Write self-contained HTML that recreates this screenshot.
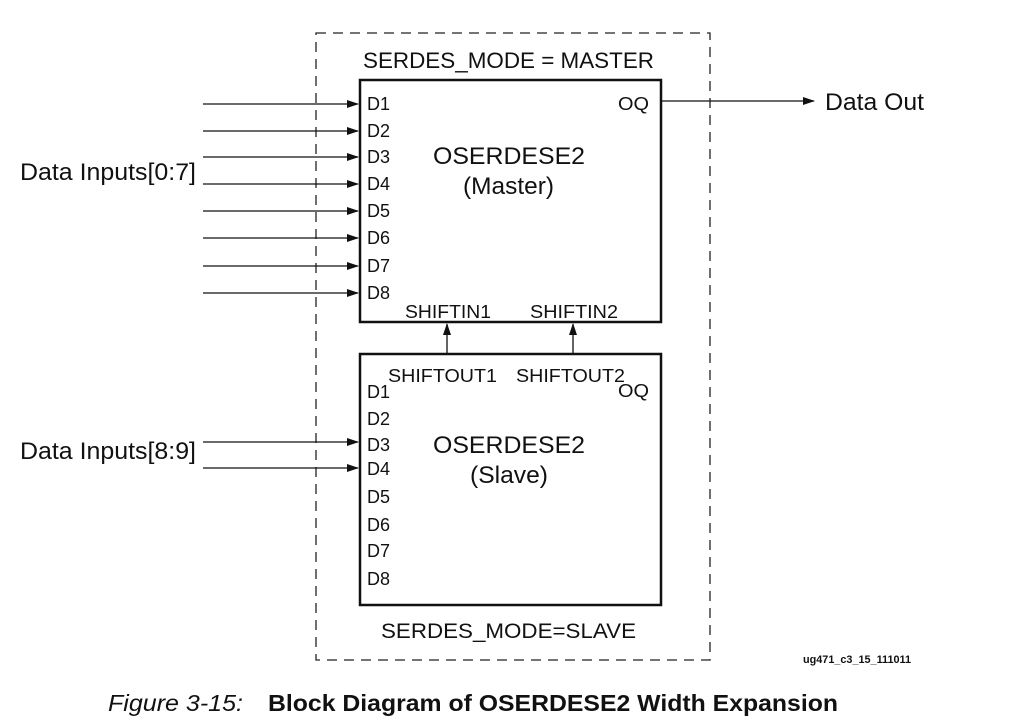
<!DOCTYPE html>
<html><head><meta charset="utf-8"><style>
html,body{margin:0;padding:0;background:#fff;}
svg{display:block;}
text{font-family:"Liberation Sans",Arial,sans-serif;fill:#111;}
</style></head><body>
<svg width="1016" height="727" viewBox="0 0 1016 727">
<defs><marker id="ah" markerWidth="12" markerHeight="8" refX="11" refY="4" orient="auto" markerUnits="userSpaceOnUse"><path d="M0,0 L12,4 L0,8 z" fill="#111"/></marker></defs>
<rect x="316" y="33" width="394" height="627" fill="none" stroke="#222" stroke-width="1.3" stroke-dasharray="10,7"/>
<text x="363" y="68" font-size="22" textLength="291" lengthAdjust="spacingAndGlyphs">SERDES_MODE = MASTER</text>
<rect x="360" y="80" width="301" height="242" fill="none" stroke="#111" stroke-width="2.5"/>
<g stroke="#111" stroke-width="1.3">
<line x1="203" y1="104" x2="358" y2="104" marker-end="url(#ah)"/>
<line x1="203" y1="131" x2="358" y2="131" marker-end="url(#ah)"/>
<line x1="203" y1="157" x2="358" y2="157" marker-end="url(#ah)"/>
<line x1="203" y1="184" x2="358" y2="184" marker-end="url(#ah)"/>
<line x1="203" y1="211" x2="358" y2="211" marker-end="url(#ah)"/>
<line x1="203" y1="238" x2="358" y2="238" marker-end="url(#ah)"/>
<line x1="203" y1="266" x2="358" y2="266" marker-end="url(#ah)"/>
<line x1="203" y1="293" x2="358" y2="293" marker-end="url(#ah)"/>
</g>
<g font-size="18">
<text x="367" y="110">D1</text><text x="367" y="137">D2</text><text x="367" y="163">D3</text><text x="367" y="190">D4</text>
<text x="367" y="217">D5</text><text x="367" y="244">D6</text><text x="367" y="272">D7</text><text x="367" y="299">D8</text>
<text x="618" y="110" textLength="31" lengthAdjust="spacingAndGlyphs">OQ</text>
<text x="405" y="318" textLength="86" lengthAdjust="spacingAndGlyphs">SHIFTIN1</text><text x="530" y="318" textLength="88" lengthAdjust="spacingAndGlyphs">SHIFTIN2</text>
</g>
<text x="433" y="164" font-size="24" textLength="152" lengthAdjust="spacingAndGlyphs">OSERDESE2</text>
<text x="463" y="194" font-size="24" textLength="91" lengthAdjust="spacingAndGlyphs">(Master)</text>
<text x="20" y="180" font-size="24" textLength="176" lengthAdjust="spacingAndGlyphs">Data Inputs[0:7]</text>
<line x1="661" y1="101" x2="814" y2="101" stroke="#111" stroke-width="1.3" marker-end="url(#ah)"/>
<text x="825" y="110" font-size="24" textLength="99" lengthAdjust="spacingAndGlyphs">Data Out</text>
<line x1="447" y1="354" x2="447" y2="324" stroke="#111" stroke-width="1.3" marker-end="url(#ah)"/>
<line x1="573" y1="354" x2="573" y2="324" stroke="#111" stroke-width="1.3" marker-end="url(#ah)"/>
<rect x="360" y="354" width="301" height="251" fill="none" stroke="#111" stroke-width="2.5"/>
<g font-size="18">
<text x="388" y="382" textLength="109" lengthAdjust="spacingAndGlyphs">SHIFTOUT1</text><text x="516" y="382" textLength="109" lengthAdjust="spacingAndGlyphs">SHIFTOUT2</text>
<text x="367" y="398">D1</text><text x="367" y="425">D2</text><text x="367" y="451">D3</text><text x="367" y="475">D4</text>
<text x="367" y="503">D5</text><text x="367" y="531">D6</text><text x="367" y="557">D7</text><text x="367" y="585">D8</text>
<text x="618" y="397" textLength="31" lengthAdjust="spacingAndGlyphs">OQ</text>
</g>
<g stroke="#111" stroke-width="1.3">
<line x1="203" y1="442" x2="358" y2="442" marker-end="url(#ah)"/>
<line x1="203" y1="468" x2="358" y2="468" marker-end="url(#ah)"/>
</g>
<text x="20" y="459" font-size="24" textLength="176" lengthAdjust="spacingAndGlyphs">Data Inputs[8:9]</text>
<text x="433" y="453" font-size="24" textLength="152" lengthAdjust="spacingAndGlyphs">OSERDESE2</text>
<text x="470" y="483" font-size="24" textLength="78" lengthAdjust="spacingAndGlyphs">(Slave)</text>
<text x="381" y="638" font-size="21" textLength="255" lengthAdjust="spacingAndGlyphs">SERDES_MODE=SLAVE</text>
<text x="803" y="663" font-size="11" font-weight="bold" textLength="108" lengthAdjust="spacingAndGlyphs">ug471_c3_15_111011</text>
<text x="108" y="711" font-size="23" font-style="italic" textLength="135" lengthAdjust="spacingAndGlyphs">Figure 3-15:</text>
<text x="268" y="711" font-size="23" font-weight="bold" textLength="570" lengthAdjust="spacingAndGlyphs">Block Diagram of OSERDESE2 Width Expansion</text>
</svg>
</body></html>
